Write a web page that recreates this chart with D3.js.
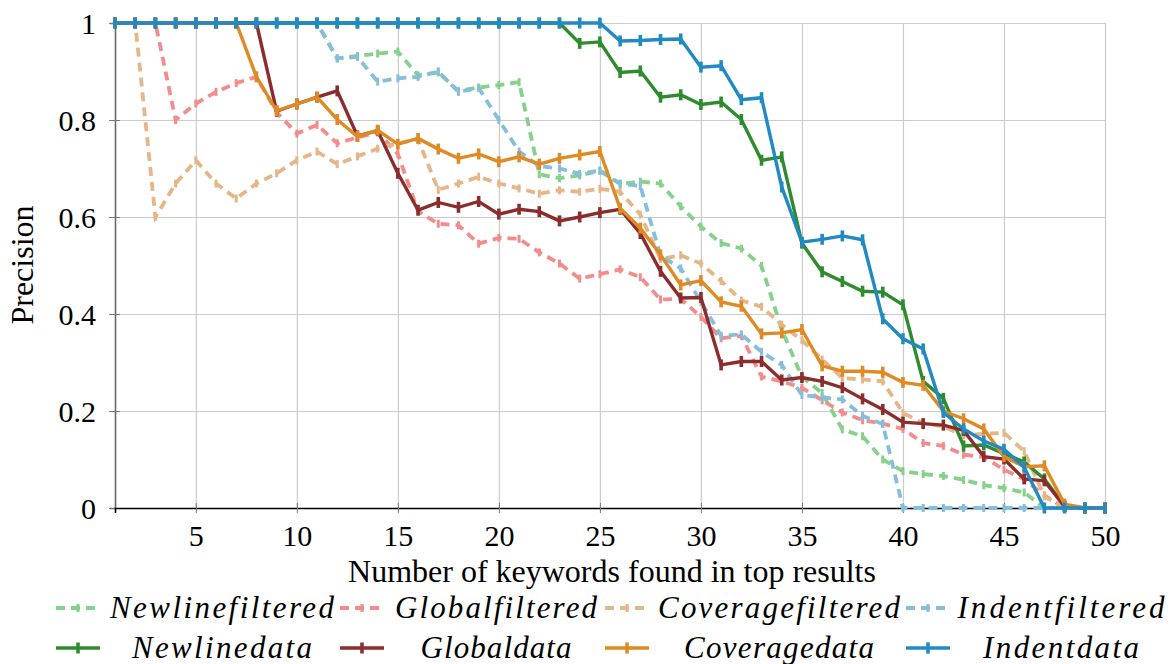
<!DOCTYPE html>
<html>
<head>
<meta charset="utf-8">
<script src="https://cdn.jsdelivr.net/npm/d3@7"></script>
</head>
<body style="margin:0">
<svg id="chart" width="1171" height="664"></svg>
<script>
// Data
const keywords = [1, 2, 3, 4, 5, 6, 7, 8, 9, 10, 11, 12, 13, 14, 15, 16, 17, 18, 19, 20,
    21, 22, 23, 24, 25, 26, 27, 28, 29, 30, 31, 32, 33, 34, 35, 36, 37, 38, 39, 40,
    41, 42, 43, 44, 45, 46, 47, 48, 49, 50];

const newlineFiltered = [1, 1, 1, 1, 1, 1, 1, 1, 1, 1,
    1, 0.927, 0.932, 0.937, 0.941, 0.892, 0.898, 0.86, 0.867, 0.872,
    0.878, 0.688, 0.68, 0.686, 0.695, 0.668, 0.673, 0.669, 0.622, 0.58,
    0.546, 0.535, 0.499, 0.368, 0.27, 0.237, 0.162, 0.148, 0.1, 0.076,
    0.07, 0.066, 0.058, 0.047, 0.041, 0.032, 0, 0, 0, 0];
const globalFiltered = [1, 1, 1, 0.8, 0.834, 0.858, 0.876, 0.889, 0.816, 0.772,
    0.79, 0.752, 0.764, 0.775, 0.73, 0.612, 0.586, 0.583, 0.545, 0.557,
    0.555, 0.527, 0.504, 0.473, 0.482, 0.492, 0.476, 0.43, 0.431, 0.394,
    0.35, 0.355, 0.271, 0.261, 0.248, 0.222, 0.197, 0.181, 0.174, 0.163,
    0.134, 0.128, 0.11, 0.105, 0.079, 0.059, 0.026, 0, 0, 0];
const coverageFiltered = [1, 1, 0.6, 0.669, 0.717, 0.669, 0.638, 0.669, 0.69, 0.717,
    0.735, 0.709, 0.725, 0.741, 0.752, 0.76, 0.656, 0.669, 0.683, 0.669,
    0.659, 0.648, 0.655, 0.652, 0.658, 0.652, 0.605, 0.513, 0.521, 0.504,
    0.468, 0.428, 0.415, 0.378, 0.346, 0.306, 0.268, 0.265, 0.261, 0.196,
    0.175, 0.168, 0.15, 0.153, 0.155, 0.117, 0.024, 0, 0, 0];
const indentFiltered = [1, 1, 1, 1, 1, 1, 1, 1, 1, 1,
    1, 0.927, 0.93, 0.879, 0.886, 0.889, 0.9, 0.858, 0.866, 0.8,
    0.735, 0.705, 0.7, 0.689, 0.696, 0.669, 0.664, 0.52, 0.494, 0.425,
    0.355, 0.358, 0.322, 0.295, 0.233, 0.228, 0.224, 0.19, 0.173, 0,
    0, 0, 0, 0, 0, 0, 0, 0, 0, 0];

const newlineData = [1, 1, 1, 1, 1, 1, 1, 1, 1, 1,
    1, 1, 1, 1, 1, 1, 1, 1, 1, 1,
    1, 1, 1, 0.958, 0.961, 0.898, 0.901, 0.847, 0.852, 0.832,
    0.837, 0.801, 0.717, 0.724, 0.546, 0.487, 0.467, 0.447, 0.445, 0.419,
    0.261, 0.226, 0.128, 0.13, 0.112, 0.095, 0.06, 0.004, 0, 0];
const globalData = [1, 1, 1, 1, 1, 1, 1, 1, 0.818, 0.833,
    0.847, 0.86, 0.767, 0.778, 0.69, 0.614, 0.63, 0.62, 0.632, 0.606,
    0.616, 0.611, 0.592, 0.6, 0.609, 0.616, 0.566, 0.488, 0.433, 0.434,
    0.295, 0.302, 0.302, 0.264, 0.269, 0.261, 0.248, 0.225, 0.203, 0.177,
    0.174, 0.171, 0.16, 0.106, 0.101, 0.06, 0.056, 0.003, 0, 0];
const coverageData = [1, 1, 1, 1, 1, 1, 1, 0.889, 0.819, 0.833,
    0.847, 0.801, 0.766, 0.779, 0.75, 0.762, 0.74, 0.721, 0.73, 0.714,
    0.724, 0.709, 0.721, 0.728, 0.735, 0.618, 0.577, 0.522, 0.46, 0.469,
    0.425, 0.416, 0.359, 0.361, 0.368, 0.293, 0.282, 0.282, 0.28, 0.259,
    0.253, 0.2, 0.184, 0.163, 0.106, 0.085, 0.087, 0.008, 0, 0];
const indentData = [1, 1, 1, 1, 1, 1, 1, 1, 1, 1,
    1, 1, 1, 1, 1, 1, 1, 1, 1, 1,
    1, 1, 1, 1, 1, 0.963, 0.964, 0.966, 0.967, 0.909,
    0.912, 0.842, 0.846, 0.662, 0.548, 0.554, 0.561, 0.553, 0.39, 0.349,
    0.328, 0.197, 0.163, 0.138, 0.121, 0.084, 0, 0, 0, 0];

const seriesNames = ["Newlinefiltered", "Globalfiltered", "Coveragefiltered", "Indentfiltered",
    "Newlinedata", "Globaldata", "Coveragedata", "Indentdata"];
const xTicks = [5, 10, 15, 20, 25, 30, 35, 40, 45, 50];
const yTicks = [0, 0.2, 0.4, 0.6, 0.8, 1];

// series table, drawing order = legend order
const series = [
    { name: seriesNames[0], values: newlineFiltered, color: "#86d28a", dashed: true },
    { name: seriesNames[1], values: globalFiltered, color: "#f38d8d", dashed: true },
    { name: seriesNames[2], values: coverageFiltered, color: "#e5b788", dashed: true },
    { name: seriesNames[3], values: indentFiltered, color: "#86bfdc", dashed: true },
    { name: seriesNames[4], values: newlineData, color: "#2e8c2e", dashed: false },
    { name: seriesNames[5], values: globalData, color: "#8b2d2d", dashed: false },
    { name: seriesNames[6], values: coverageData, color: "#de8a25", dashed: false },
    { name: seriesNames[7], values: indentData, color: "#218ac2", dashed: false }
];

let width = 1171, height = 664;
let margin = { top: 23, bottom: 156, left: 115, right: 66 };

let svg = d3.select('#chart');

let xScale = d3.scaleLinear()
    .domain([1, 50])
    .range([margin.left, width - margin.right]);

let yScale = d3.scaleLinear()
    .domain([0, 1])
    .range([height - margin.bottom, margin.top]);

// grid
svg.append('g')
    .attr('transform', `translate(0, ${height - margin.bottom})`)
    .call(d3.axisBottom(xScale).tickValues(xTicks).tickSize(-(height - margin.bottom - margin.top)).tickFormat(''))
    .call(g => g.select('.domain').remove())
    .call(g => g.selectAll('line').attr('stroke', '#cbcbcb').attr('stroke-width', 1.2));

svg.append('g')
    .attr('transform', `translate(${margin.left}, 0)`)
    .call(d3.axisLeft(yScale).tickValues(yTicks).tickSize(-(width - margin.right - margin.left)).tickFormat(''))
    .call(g => g.select('.domain').remove())
    .call(g => g.selectAll('line').attr('stroke', '#cbcbcb').attr('stroke-width', 1.2));

// y axis
let yAxis = svg.append('g')
    .attr('transform', `translate(${margin.left}, 0)`)
    .call(d3.axisLeft(yScale).tickValues(yTicks).tickSize(5).tickPadding(14)
        .tickFormat(d => d === 0 || d === 1 ? String(d) : d3.format('.1f')(d)));
yAxis.attr('font-family', 'Liberation Serif').attr('font-size', 30);
yAxis.select('.domain').attr('stroke', '#666').attr('stroke-width', 1.6);
yAxis.selectAll('.tick line').attr('stroke', '#777').attr('x2', 5).attr('x1', -6);
yAxis.selectAll('.tick text').attr('dy', '0.35em');

// x axis
let xAxis = svg.append('g')
    .attr('transform', `translate(0, ${height - margin.bottom})`)
    .call(d3.axisBottom(xScale).tickValues(xTicks).tickSize(5).tickPadding(12));
xAxis.attr('font-family', 'Liberation Serif').attr('font-size', 30);
xAxis.select('.domain').attr('stroke', '#000').attr('stroke-width', 1.6);
xAxis.selectAll('.tick line').attr('stroke', '#777').attr('y1', -5).attr('y2', 5);

// axis labels
svg.append('text')
    .attr('x', 612)
    .attr('y', 582)
    .attr('text-anchor', 'middle')
    .attr('font-family', 'Liberation Serif')
    .attr('font-size', 32)
    .text('Number of keywords found in top results');

svg.append('text')
    .attr('transform', 'translate(33, 265) rotate(-90)')
    .attr('text-anchor', 'middle')
    .attr('font-family', 'Liberation Serif')
    .attr('font-size', 32)
    .text('Precision');

// lines
let line = d3.line()
    .x((d, i) => xScale(keywords[i]))
    .y(d => yScale(d));

let plot = svg.append('g');

series.forEach(s => {
    let g = plot.append('g');
    g.append('path')
        .datum(s.values)
        .attr('d', line)
        .attr('fill', 'none')
        .attr('stroke', s.color)
        .attr('stroke-width', s.dashed ? 3.8 : 3.4)
        .attr('stroke-dasharray', s.dashed ? '9,6' : null)
        .attr('stroke-linejoin', 'miter');

    // vertical bar marks
    g.selectAll('line.mark')
        .data(s.values)
        .enter()
        .append('line')
        .attr('class', 'mark')
        .attr('x1', (d, i) => xScale(keywords[i]))
        .attr('x2', (d, i) => xScale(keywords[i]))
        .attr('y1', d => yScale(d) - (s.dashed ? 4 : 5.5))
        .attr('y2', d => yScale(d) + (s.dashed ? 4 : 5.5))
        .attr('stroke', s.color)
        .attr('stroke-width', s.dashed ? 3 : 3.6);
});

// legend
const legendCols = [
    { sx: 56, tx: 222, w1: 224, w2: 180 },
    { sx: 340, tx: 496, w1: 202, w2: 151 },
    { sx: 605, tx: 779, w1: 242, w2: 190 },
    { sx: 906, tx: 1061, w1: 207, w2: 156 }
];
const legendRows = [608, 648];

series.forEach((s, i) => {
    let col = legendCols[i % 4];
    let row = Math.floor(i / 4);
    let y = legendRows[row];
    let lg = svg.append('g').attr('class', 'legend');
    lg.append('line')
        .attr('x1', col.sx).attr('x2', col.sx + 44)
        .attr('y1', y).attr('y2', y)
        .attr('stroke', s.color)
        .attr('stroke-width', s.dashed ? 3.8 : 3.4)
        .attr('stroke-dasharray', s.dashed ? '9,6' : null);
    lg.append('line')
        .attr('x1', col.sx + 22).attr('x2', col.sx + 22)
        .attr('y1', y - (s.dashed ? 4 : 5.5)).attr('y2', y + (s.dashed ? 4 : 5.5))
        .attr('stroke', s.color)
        .attr('stroke-width', s.dashed ? 3 : 3.6);
    lg.append('text')
        .attr('x', col.tx)
        .attr('y', y + 10)
        .attr('text-anchor', 'middle')
        .attr('font-family', 'Liberation Serif')
        .attr('font-size', 31)
        .attr('font-style', 'italic')
        .attr('textLength', row === 0 ? col.w1 : col.w2)
        .attr('lengthAdjust', 'spacing')
        .text(s.name);
});
</script>
</body>
</html>
